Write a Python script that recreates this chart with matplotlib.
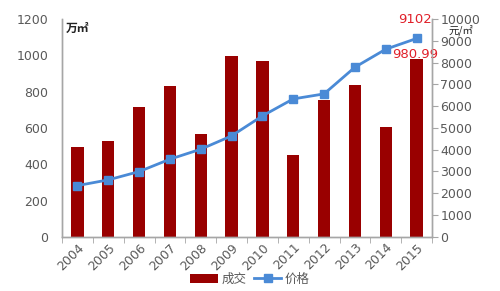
import matplotlib
matplotlib.use("Agg")
import matplotlib.pyplot as plt
import numpy as np

plt.rcParams['font.family'] = ['Noto Sans CJK SC', 'DejaVu Sans']

years = ['2004', '2005', '2006', '2007', '2008', '2009', '2010', '2011', '2012', '2013', '2014', '2015']
volume = [495, 530, 714, 830, 567, 998, 970, 453, 754, 837, 604, 980.99]
price = [2353, 2615, 2996, 3564, 4022, 4633, 5550, 6330, 6560, 7784, 8610, 9102]

bar_color = '#990000'
line_color = '#4a8ad6'
grey = '#595959'
spine_grey = '#a6a6a6'

fig = plt.figure(figsize=(5.0, 2.91), dpi=100)
ax = fig.add_axes([0.124, 0.186, 0.74, 0.749])
ax2 = ax.twinx()

x = np.arange(len(years))
bars = ax.bar(x, volume, width=0.4, color=bar_color, label='成交', zorder=2)
ax.set_ylim(0, 1200)
ax.set_yticks(range(0, 1201, 200))
ax.set_xlim(-0.5, len(years) - 0.5)
ax.set_xticks(x)
ax.set_xticklabels(years, rotation=45, ha='right', rotation_mode='anchor', fontsize=9, color=grey,
                   family='DejaVu Sans')
ax.tick_params(axis='x', length=0, pad=3)
ax.set_xticks(np.arange(-0.5, len(years)), minor=True)
ax.tick_params(axis='x', which='minor', length=4, color=spine_grey, direction='out')
ax.tick_params(axis='y', length=0, labelsize=9, labelcolor=grey, pad=10)
for lbl in ax.get_yticklabels():
    lbl.set_family('DejaVu Sans')

line, = ax2.plot(x, price, color=line_color, lw=2, marker='s', markersize=6, label='价格', zorder=3)
ax2.set_ylim(0, 10000)
ax2.set_yticks(range(0, 10001, 1000))
ax2.tick_params(axis='y', length=4, color=spine_grey, direction='out', labelsize=9, labelcolor=grey, pad=2)
for lbl in ax2.get_yticklabels():
    lbl.set_family('DejaVu Sans')

for a in (ax, ax2):
    a.spines['top'].set_visible(False)
    for s in ('left', 'right', 'bottom'):
        a.spines[s].set_color(spine_grey)
        a.spines[s].set_linewidth(1.0)

ax.text(0.01, 0.985, '万㎡', transform=ax.transAxes, fontsize=8.5, color='#222222',
        ha='left', va='top', fontweight='bold')
ax2.text(1.045, 0.948, '元/㎡', transform=ax2.transAxes, fontsize=7.5, color='#222222',
         ha='left', va='center')

ax2.annotate(f'{price[-1]}', (x[-1], price[-1]), xytext=(-1, 9), textcoords='offset points',
             color='#e0202a', fontsize=9.5, ha='center', va='bottom', family='DejaVu Sans')
ax.annotate(f'{volume[-1]:.2f}', (x[-1], volume[-1]), xytext=(-1, 3), textcoords='offset points',
            color='#e0202a', fontsize=9.5, ha='center', va='center', family='DejaVu Sans')

fig.legend(handles=[bars, line], labels=['成交', '价格'], loc='lower center',
           bbox_to_anchor=(0.5, -0.02), ncol=2, frameon=False, fontsize=9,
           handlelength=2.2, columnspacing=0.6, handletextpad=0.3,
           labelcolor=grey)

fig.savefig('out.png', dpi=100)
